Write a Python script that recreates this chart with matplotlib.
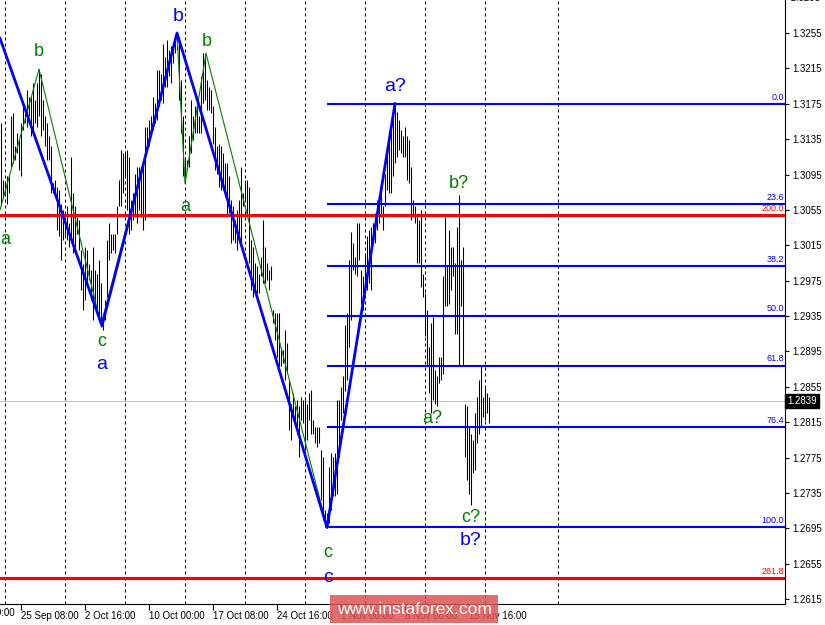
import numpy as np
import matplotlib
matplotlib.use("agg")
import matplotlib.pyplot as plt
from matplotlib import transforms

plt.rcParams['font.family'] = ['Liberation Sans', 'DejaVu Sans']

# H4 bars (high / low), oldest first
highs = [
    1.3153, 1.3089, 1.3085, 1.3093, 1.3096, 1.3161, 1.3164, 1.3127, 1.3142, 1.3134,
    1.3153, 1.3176, 1.3164, 1.3191, 1.3183, 1.3183, 1.3198, 1.3179, 1.3198, 1.3214,
    1.3209, 1.3179, 1.3161, 1.3153, 1.3138, 1.3127, 1.3085, 1.3089, 1.3081, 1.3077,
    1.3062, 1.3055, 1.3043, 1.3059, 1.3040, 1.3115, 1.3074, 1.3059, 1.3047, 1.3043,
    1.3010, 1.2994, 1.3013, 1.3010, 1.2994, 1.2987, 1.3013, 1.2987, 1.2983, 1.2998,
    1.2972, 1.2938, 1.2953, 1.3021, 1.3040, 1.3028, 1.3028, 1.3028, 1.3059, 1.3089,
    1.3123, 1.3119,
    1.3119, 1.3123, 1.3115, 1.3066, 1.3074, 1.3096, 1.3104, 1.3104,
    1.3100, 1.3111, 1.3149, 1.3149, 1.3157, 1.3161, 1.3183, 1.3176, 1.3213, 1.3213,
    1.3209, 1.3243, 1.3228, 1.3247, 1.3236, 1.3240, 1.3243, 1.3251, 1.3256, 1.3247,
    1.3202, 1.3161, 1.3115, 1.3111, 1.3138, 1.3179, 1.3161, 1.3172, 1.3179, 1.3161,
    1.3206, 1.3232, 1.3232, 1.3202, 1.3194, 1.3191, 1.3172, 1.3149, 1.3127, 1.3130,
    1.3127, 1.3119, 1.3108, 1.3108, 1.3093, 1.3066, 1.3059, 1.3043, 1.3055, 1.3066,
    1.3104, 1.3074,
    1.3089, 1.3089, 1.3081, 1.3021, 1.3013, 1.2995, 1.2991, 1.2983,
    1.3002, 1.3044, 1.3013, 1.2995, 1.2987, 1.2991, 1.2942, 1.2938, 1.2938, 1.2938,
    1.2900, 1.2897, 1.2919, 1.2904, 1.2863, 1.2836, 1.2848, 1.2833, 1.2840, 1.2833,
    1.2844, 1.2840, 1.2840, 1.2836, 1.2848, 1.2851, 1.2818, 1.2810, 1.2810, 1.2810,
    1.2783, 1.2776, 1.2716, 1.2712, 1.2764, 1.2780, 1.2776, 1.2780,
    1.2840, 1.2840, 1.2855, 1.2867, 1.2925, 1.2938, 1.2998, 1.3030, 1.3017, 1.3002,
    1.3040, 1.3040, 1.2987, 1.2980, 1.3006, 1.3025, 1.3032, 1.3036, 1.3040, 1.3051,
    1.3066, 1.3066, 1.3085, 1.3059, 1.3096, 1.3127, 1.3138, 1.3157, 1.3160, 1.3175,
    1.3166, 1.3157, 1.3145, 1.3138, 1.3149, 1.3138, 1.3134, 1.3104, 1.3066, 1.3059,
    1.3047, 1.3044, 1.3055, 1.2983, 1.2961, 1.2942, 1.2900, 1.2927, 1.2934, 1.2874,
    1.2867, 1.2889, 1.2889, 1.2980, 1.3047, 1.2991, 1.3032, 1.3013, 1.3013, 1.2995,
    1.3036, 1.3072, 1.2998, 1.3013, 1.2836, 1.2833, 1.2810, 1.2802, 1.2795, 1.2825,
    1.2844, 1.2863, 1.2878, 1.2844, 1.2855, 1.2848, 1.2844,
]
lows = [
    1.3062, 1.3070, 1.3074, 1.3062, 1.3074, 1.3104, 1.3108, 1.3111, 1.3119, 1.3100,
    1.3093, 1.3145, 1.3153, 1.3149, 1.3161, 1.3138, 1.3145, 1.3153, 1.3149, 1.3161,
    1.3138, 1.3145, 1.3127, 1.3111, 1.3111, 1.3074, 1.3074, 1.3070, 1.3032, 1.3025,
    1.2998, 1.3021, 1.3025, 1.3021, 1.3013, 1.3021, 1.3006, 1.3013, 1.3028, 1.3010,
    1.2964, 1.2942, 1.2953, 1.2968, 1.2976, 1.2953, 1.2930, 1.2949, 1.2942, 1.2934,
    1.2923, 1.2919, 1.2930, 1.2957, 1.2998, 1.3006, 1.3010, 1.3006, 1.3028, 1.3059,
    1.3059, 1.3074,
    1.3093, 1.3055, 1.3028, 1.3032, 1.3043, 1.3047, 1.3040, 1.3055,
    1.3047, 1.3032, 1.3043, 1.3123, 1.3127, 1.3138, 1.3145, 1.3153, 1.3157, 1.3172,
    1.3179, 1.3176, 1.3194, 1.3194, 1.3206, 1.3198, 1.3221, 1.3232, 1.3236, 1.3179,
    1.3142, 1.3093, 1.3085, 1.3100, 1.3104, 1.3119, 1.3134, 1.3142, 1.3142, 1.3142,
    1.3142, 1.3176, 1.3179, 1.3168, 1.3168, 1.3164, 1.3130, 1.3100, 1.3096, 1.3081,
    1.3077, 1.3077, 1.3070, 1.3047, 1.3051, 1.3017, 1.3021, 1.3017, 1.3010, 1.3028,
    1.3013, 1.3059,
    1.3066, 1.3047, 1.2995, 1.2964, 1.2957, 1.2964, 1.2961, 1.2961,
    1.2980, 1.2972, 1.2972, 1.2976, 1.2964, 1.2976, 1.2927, 1.2908, 1.2889, 1.2878,
    1.2878, 1.2882, 1.2863, 1.2871, 1.2806, 1.2795, 1.2818, 1.2814, 1.2802, 1.2776,
    1.2818, 1.2814, 1.2783, 1.2795, 1.2818, 1.2802, 1.2802, 1.2791, 1.2787, 1.2791,
    1.2727, 1.2704, 1.2697, 1.2695, 1.2701, 1.2716, 1.2731, 1.2731,
    1.2734, 1.2776, 1.2818, 1.2825, 1.2850, 1.2863, 1.2900, 1.2930, 1.2987, 1.2983,
    1.2980, 1.2998, 1.2949, 1.2942, 1.2976, 1.2964, 1.2972, 1.2964, 1.3017, 1.3017,
    1.3032, 1.3040, 1.3047, 1.3032, 1.3059, 1.3078, 1.3074, 1.3074, 1.3093, 1.3108,
    1.3115, 1.3123, 1.3119, 1.3115, 1.3115, 1.3089, 1.3085, 1.3044, 1.3047, 1.3040,
    1.2995, 1.2995, 1.2968, 1.2957, 1.2912, 1.2878, 1.2848, 1.2825, 1.2840, 1.2836,
    1.2833, 1.2859, 1.2863, 1.2870, 1.2946, 1.2946, 1.2949, 1.2964, 1.2980, 1.2915,
    1.2915, 1.2878, 1.2946, 1.2878, 1.2776, 1.2750, 1.2734, 1.2721, 1.2757, 1.2761,
    1.2791, 1.2802, 1.2810, 1.2821, 1.2818, 1.2825, 1.2814,
]
last_price = 1.2839

# time axis labels (bar index of label)
time_bars = [-22, 10, 42, 74, 106, 138, 170, 202, 234]
time_labels = ['18 Sep 00:00', '25 Sep 08:00', '2 Oct 16:00', '10 Oct 00:00',
               '17 Oct 08:00', '24 Oct 16:00', '1 Nov 00:00', '8 Nov 08:00',
               '15 Nov 16:00']
separator_bars = [2, 32, 62, 92, 122, 152, 182, 212, 242, 278.5]

# wave markup
blue_wave_x = [-0.5, 50.5, 88, 163, 197]
blue_wave_y = [1.3249, 1.2924, 1.3255, 1.2696, 1.3175]
green_wave_x = [-0.5, 19, 50, 88, 92, 102.5, 163]
green_wave_y = [1.3055, 1.3214, 1.2925, 1.3255, 1.3085, 1.3232, 1.2696]

blue_labels = [('a', 50.5, 1.2880), ('b', 88.5, 1.3274), ('c', 163.5, 1.2639),
               ('a?', 197, 1.3195), ('b?', 235, 1.2681)]
green_labels = [('a', 2, 1.3021), ('b', 19, 1.3234), ('c', 50.5, 1.2906),
                ('a', 92, 1.3059), ('b', 103, 1.3245), ('c', 163.5, 1.2668),
                ('b?', 229, 1.3085), ('a?', 215.5, 1.2819), ('c?', 235, 1.2707)]

# fibonacci retracement of last swing
fib_start_bar = 163
fib_high = 1.3175
fib_low = 1.2696
fib_ratios = [0.0, 23.6, 38.2, 50.0, 61.8, 76.4, 100.0]
red_levels = [1.3049, 1.2639]
red_names = ['200.0', '261.8']

price_ticks = [1.2615, 1.2655, 1.2695, 1.2735, 1.2775, 1.2815, 1.2855, 1.2895,
               1.2935, 1.2975, 1.3015, 1.3055, 1.3095, 1.3135, 1.3175, 1.3215,
               1.3255, 1.3295]

fig = plt.figure(figsize=(8.25, 6.25), dpi=100)
ax = fig.add_axes([0, 21 / 625, 785 / 825, 604 / 625])
ax.set_xlim(-0.5, 392)
ax.set_ylim(1.26094, 1.32923)

for b in separator_bars:
    ax.axvline(b, color='black', lw=0.72, linestyle=(0, (3, 3)), zorder=1)
ax.axhline(last_price, color='#c0c0c0', lw=0.75, zorder=1)

bars = np.arange(len(highs))
ax.vlines(bars, lows, highs, color='black', lw=0.75, zorder=2)

ax.plot(green_wave_x, green_wave_y, color='#008000', lw=0.8, zorder=3)

for lvl, name in zip(red_levels, red_names):
    ax.axhline(lvl, color='#ff0000', lw=2.2, zorder=4)
    ax.annotate(name, (391.5, lvl), xytext=(0, 1.5), textcoords='offset points',
                ha='right', va='bottom', fontsize=6.5, color='#ff0000', zorder=6)

for r in fib_ratios:
    lvl = fib_high - r / 100 * (fib_high - fib_low)
    ax.hlines(lvl, fib_start_bar, 392, color='#0000ff', lw=1.5, zorder=4)
    ax.annotate('%.1f' % r, (391.5, lvl), xytext=(0, 1.5), textcoords='offset points',
                ha='right', va='bottom', fontsize=6.5, color='#0000ff', zorder=6)

ax.plot(blue_wave_x, blue_wave_y, color='#0000ff', lw=2.0, zorder=5)

for t, x, y in green_labels:
    ax.text(x, y, t, color='#008000', fontsize=13, ha='center', va='center', zorder=7)
for t, x, y in blue_labels:
    ax.text(x, y, t, color='#0000ff', fontsize=14, ha='center', va='center', zorder=7)

# axes look
for s in ['top', 'left']:
    ax.spines[s].set_visible(False)
for s in ['right', 'bottom']:
    ax.spines[s].set_linewidth(0.8)
ax.yaxis.tick_right()
ax.set_yticks(price_ticks[:-1])
ax.set_yticklabels(['%.4f' % p for p in price_ticks[:-1]])
ax.tick_params(axis='y', direction='out', length=3, width=0.8, pad=2, labelsize=7)
ax.set_xticks(time_bars[1:])
ax.set_xticklabels(time_labels[1:])
ax.tick_params(axis='x', direction='out', length=4, width=0.8, pad=1, labelsize=7)
for lbl in ax.get_xticklabels():
    lbl.set_ha('left')

trans_y = transforms.blended_transform_factory(ax.transAxes, ax.transData)
ax.text(1.0, price_ticks[-1], '  %.4f' % price_ticks[-1], transform=trans_y,
        fontsize=7, va='center', ha='left', clip_on=False)
ax.text(1.003, last_price, '%.4f' % last_price, transform=trans_y, fontsize=7,
        color='white', va='center', ha='left', clip_on=False,
        bbox=dict(boxstyle='square,pad=0.2', facecolor='black', edgecolor='black'))
trans_x = transforms.blended_transform_factory(ax.transData, ax.transAxes)
ax.text(time_bars[0], -0.007, time_labels[0], transform=trans_x, fontsize=7,
        ha='left', va='top', clip_on=False)

fig.text(414 / 825, 16 / 625, 'www.instaforex.com', color='white', fontsize=12.5,
         ha='center', va='center',
         bbox=dict(boxstyle='square,pad=0.4', facecolor=(0.87, 0.33, 0.33),
                   edgecolor='none', alpha=0.85))

fig.savefig('out.png', dpi=100, facecolor='white')
